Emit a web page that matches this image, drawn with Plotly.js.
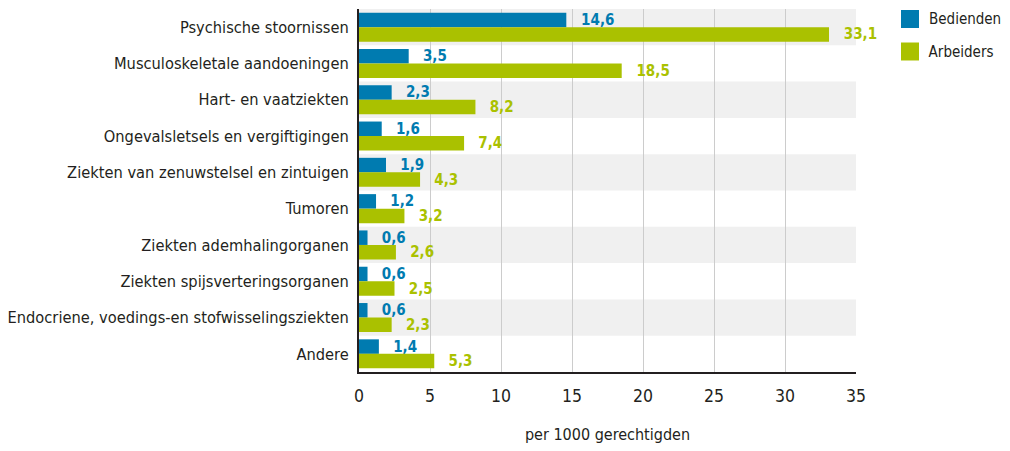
<!DOCTYPE html>
<html><head><meta charset="utf-8">
<script src="https://cdn.plot.ly/plotly-3.0.1.min.js"></script>
<style>html,body{margin:0;padding:0;background:#fff}
#chart svg text{font-stretch:condensed !important}</style>
</head><body>
<div id="chart" style="width:1010px;height:451px"></div>
<script>
const categories = [
  "Psychische stoornissen",
  "Musculoskeletale aandoeningen",
  "Hart- en vaatziekten",
  "Ongevalsletsels en vergiftigingen",
  "Ziekten van zenuwstelsel en zintuigen",
  "Tumoren",
  "Ziekten ademhalingorganen",
  "Ziekten spijsverteringsorganen",
  "Endocriene, voedings-en stofwisselingsziekten",
  "Andere"
];
const bedienden = [14.6, 3.5, 2.3, 1.6, 1.9, 1.2, 0.6, 0.6, 0.6, 1.4];
const arbeiders = [33.1, 18.5, 8.2, 7.4, 4.3, 3.2, 2.6, 2.5, 2.3, 5.3];
const seriesNames = ["Bedienden", "Arbeiders"];
const xTicks = [0, 5, 10, 15, 20, 25, 30, 35];

const FONT = "'DejaVu Sans', sans-serif";
const BLUE = "#007bb0", GREEN = "#aac100";
const TXT = "#231f20";
const fmt = v => "\u00a0\u00a0" + v.toFixed(1).replace(".", ",");

function barTrace(name, vals, color) {
  return {
    type: "bar", orientation: "h", name: name,
    y: categories, x: vals,
    marker: {color: color},
    text: vals.map(fmt), textposition: "outside",
    textfont: {family: FONT, size: 15, color: color, weight: "bold"},
    constraintext: "none", cliponaxis: false,
    hoverinfo: "skip", showlegend: false
  };
}

const shapes = categories.map((c, i) => i % 2 === 0 ? {
  type: "rect", xref: "paper", yref: "y", x0: 0, x1: 1,
  y0: i - 0.5, y1: i + 0.5, fillcolor: "#f0f0f0", line: {width: 0}, layer: "below"
} : null).filter(Boolean);

// manual legend (kept outside the plot without pushing margins)
const legendColors = [BLUE, GREEN];
const legendAnnotations = [];
seriesNames.forEach((n, i) => {
  const top = 1 - (10 + 32.5 * i - 9) / 363;
  const bot = 1 - (28 + 32.5 * i - 9) / 363;
  shapes.push({type: "rect", xref: "paper", yref: "paper",
    x0: 1.0905, x1: 1.1268, y0: bot, y1: top,
    fillcolor: legendColors[i], line: {width: 0}});
  legendAnnotations.push({xref: "paper", yref: "paper", x: 1.1449, y: (top + bot) / 2,
    xanchor: "left", yanchor: "middle", xshift: -5, text: n, showarrow: false,
    font: {family: FONT, size: 15, color: TXT}});
});

const layout = {
  width: 1010, height: 451,
  margin: {l: 359, r: 154, t: 9, b: 79},
  paper_bgcolor: "#fff", plot_bgcolor: "rgba(0,0,0,0)",
  font: {family: FONT, color: TXT, size: 16.3},
  barmode: "group", bargap: 0.2, bargroupgap: 0,
  showlegend: false,
  xaxis: {
    range: [0, 35], tickvals: xTicks, ticktext: xTicks.map(String),
    showgrid: true, gridcolor: "#cccccc", gridwidth: 1,
    zeroline: false, showline: true, linecolor: TXT, linewidth: 2,
    ticks: "", ticklabelstandoff: 7, tickfont: {family: FONT, size: 17.5, color: TXT},
    title: {text: "per 1000 gerechtigden", font: {family: FONT, size: 16, color: TXT}, standoff: 24},
    fixedrange: true
  },
  yaxis: {
    autorange: "reversed", type: "category",
    showline: true, linecolor: TXT, linewidth: 2,
    showgrid: false, ticks: "", ticklabelstandoff: 5,
    tickfont: {family: FONT, size: 16.3, color: TXT},
    fixedrange: true
  },
  shapes: shapes,
  annotations: legendAnnotations
};

Plotly.newPlot("chart", [
  barTrace(seriesNames[0], bedienden, BLUE),
  barTrace(seriesNames[1], arbeiders, GREEN)
], layout, {staticPlot: true, displayModeBar: false});
</script>
</body></html>
